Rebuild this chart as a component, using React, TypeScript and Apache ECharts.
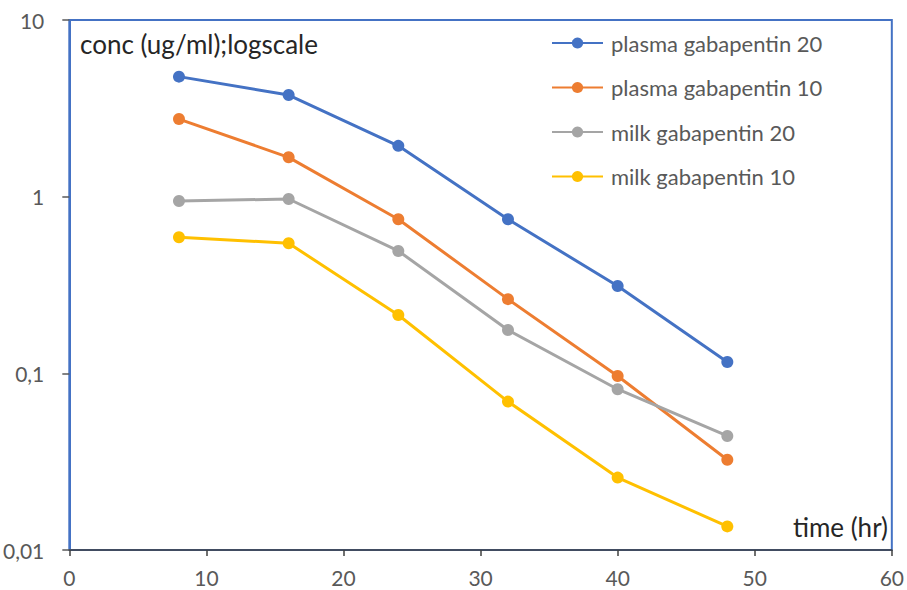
import React, { useEffect, useRef } from "react";
import * as echarts from "echarts";

const timesHr = [8, 16, 24, 32, 40, 48];
const plasma20 = [4.78, 3.76, 1.94, 0.745, 0.312, 0.116];
const plasma10 = [2.75, 1.67, 0.745, 0.263, 0.0966, 0.0324];
const milk20 = [0.945, 0.97, 0.493, 0.176, 0.0813, 0.0442];
const milk10 = [0.589, 0.545, 0.214, 0.0692, 0.0257, 0.0136];
const seriesNames = ["plasma gabapentin 20", "plasma gabapentin 10", "milk gabapentin 20", "milk gabapentin 10"];
const seriesColors = ["#4472C4", "#ED7D31", "#A5A5A5", "#FFC000"];
const yTickLabels = ["0,01", "0,1", "1", "10"];
const xTicks = [0, 10, 20, 30, 40, 50, 60];

const FONT = "Lato";

export default function App() {
  const ref = useRef<HTMLDivElement>(null);
  useEffect(() => {
    if (!ref.current) return;
    const chart = echarts.init(ref.current, undefined, { renderer: "svg" });
    const allSeries = [plasma20, plasma10, milk20, milk10];
    chart.setOption({
      animation: false,
      backgroundColor: "#ffffff",
      textStyle: { fontFamily: FONT },
      title: [
        {
          text: "conc (ug/ml);logscale",
          left: 75,
          top: 26,
          textStyle: { fontFamily: FONT, fontSize: 26, fontWeight: "normal", color: "#262626" },
        },
        {
          text: "time (hr)",
          right: 14,
          top: 509,
          textStyle: { fontFamily: FONT, fontSize: 26, fontWeight: "normal", color: "#262626" },
        },
      ],
      legend: {
        orient: "vertical",
        left: 546,
        top: 26,
        itemWidth: 51,
        itemHeight: 14,
        itemGap: 20.5,
        data: seriesNames,
        textStyle: { fontFamily: FONT, fontSize: 22, lineHeight: 24, color: "#595959", padding: [0, 0, 0, 3] },
      },
      grid: {
        left: 69,
        top: 20,
        right: 14,
        bottom: 40,
        show: true,
        borderColor: "#4472C4",
        borderWidth: 2,
        backgroundColor: "transparent",
      },
      xAxis: {
        type: "value",
        min: xTicks[0],
        max: xTicks[xTicks.length - 1],
        interval: 10,
        axisLine: { show: true, lineStyle: { color: "#404040", width: 1.5 } },
        axisTick: { show: true, length: 6, lineStyle: { color: "#404040", width: 1.5 } },
        axisLabel: { fontFamily: FONT, fontSize: 21, color: "#595959", margin: 17 },
        splitLine: { show: false },
      },
      yAxis: {
        type: "log",
        logBase: 10,
        min: 0.01,
        max: 10,
        axisLine: { show: true, lineStyle: { color: "#4472C4", width: 2 } },
        axisTick: { show: true, length: 7, lineStyle: { color: "#595959", width: 1.5 } },
        axisLabel: {
          fontFamily: FONT,
          fontSize: 21,
          color: "#595959",
          margin: 25,
          formatter: (v: number) => {
            const idx = Math.round(Math.log10(v)) + 2;
            return yTickLabels[idx] ?? "";
          },
        },
        splitLine: { show: false },
        minorTick: { show: false },
      },
      series: allSeries.map((vals, i) => ({
        name: seriesNames[i],
        type: "line",
        data: timesHr.map((t, j) => [t, vals[j]]),
        symbol: "circle",
        symbolSize: 12,
        color: seriesColors[i],
        lineStyle: { width: 3, color: seriesColors[i] },
        itemStyle: { color: seriesColors[i] },
      })),
    });
    return () => chart.dispose();
  }, []);
  return (
    <div
      ref={ref}
      style={{ position: "fixed", left: 0, top: 0, width: 907, height: 590 }}
    />
  );
}
